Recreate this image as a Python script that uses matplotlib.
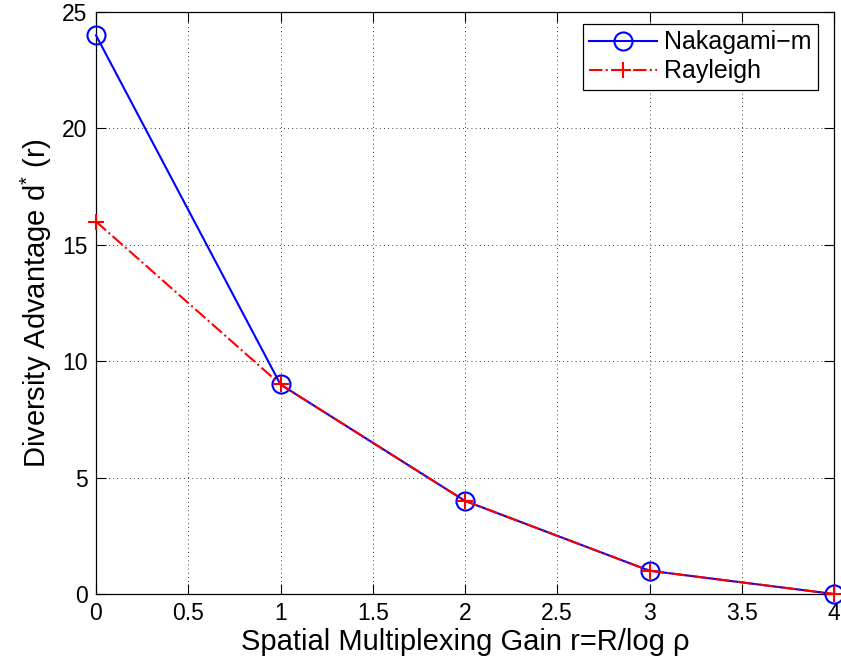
import matplotlib
matplotlib.use('Agg')
import matplotlib.pyplot as plt

plt.rcParams['font.family'] = ['Liberation Sans', 'DejaVu Sans']
plt.rcParams['mathtext.default'] = 'regular'

# data
r = [0, 1, 2, 3, 4]
nakagami = [24, 9, 4, 1, 0]
rayleigh = [16, 9, 4, 1, 0]
xticks = [0, 0.5, 1, 1.5, 2, 2.5, 3, 3.5, 4]
yticks = [0, 5, 10, 15, 20, 25]

W, H = 841, 666
x0, x1, y0, y1 = 96, 834, 12, 594   # axes box in pixels
fig = plt.figure(figsize=(W / 100, H / 100), dpi=100)
ax = fig.add_axes([x0 / W, 1 - y1 / H, (x1 - x0) / W, (y1 - y0) / H])

ax.plot(r, nakagami, color='blue', lw=1.5, marker='o', ms=13,
        mfc='none', mec='blue', mew=1.5, label='Nakagami\u2212m', clip_on=False, zorder=3)
ax.plot(r, rayleigh, color='red', lw=1.5, ls='-.', marker='+', ms=12,
        mew=1.5, label='Rayleigh', clip_on=False, zorder=4)

ax.set_xlim(0, 4)
ax.set_ylim(0, 25)
ax.set_xticks(xticks)
ax.set_xticklabels([f'{t:g}' for t in xticks])
ax.set_yticks(yticks)
ax.tick_params(direction='in', top=True, right=True, labelsize=16.5, length=7, width=0.8, pad=6)
ax.grid(True, ls=(0, (1, 4)), color='black', lw=0.6)
for s in ax.spines.values():
    s.set_linewidth(0.9)

ax.set_xlabel('Spatial Multiplexing Gain r=R/log \u03c1', fontsize=21, labelpad=2)
ax.set_ylabel('Diversity Advantage d$^{*}$ (r)', fontsize=21, labelpad=6)

# legend box: right edge ~818 px, top ~24 px
leg = ax.legend(loc='upper right', bbox_to_anchor=((818 - x0) / (x1 - x0), (y1 - 24) / (y1 - y0)),
                borderaxespad=0, fontsize=18, fancybox=False, framealpha=1,
                edgecolor='black', handlelength=2.7, handletextpad=0.3,
                labelspacing=0.2, borderpad=0.25)
leg.get_frame().set_linewidth(0.9)

fig.savefig('out.png', dpi=100)
